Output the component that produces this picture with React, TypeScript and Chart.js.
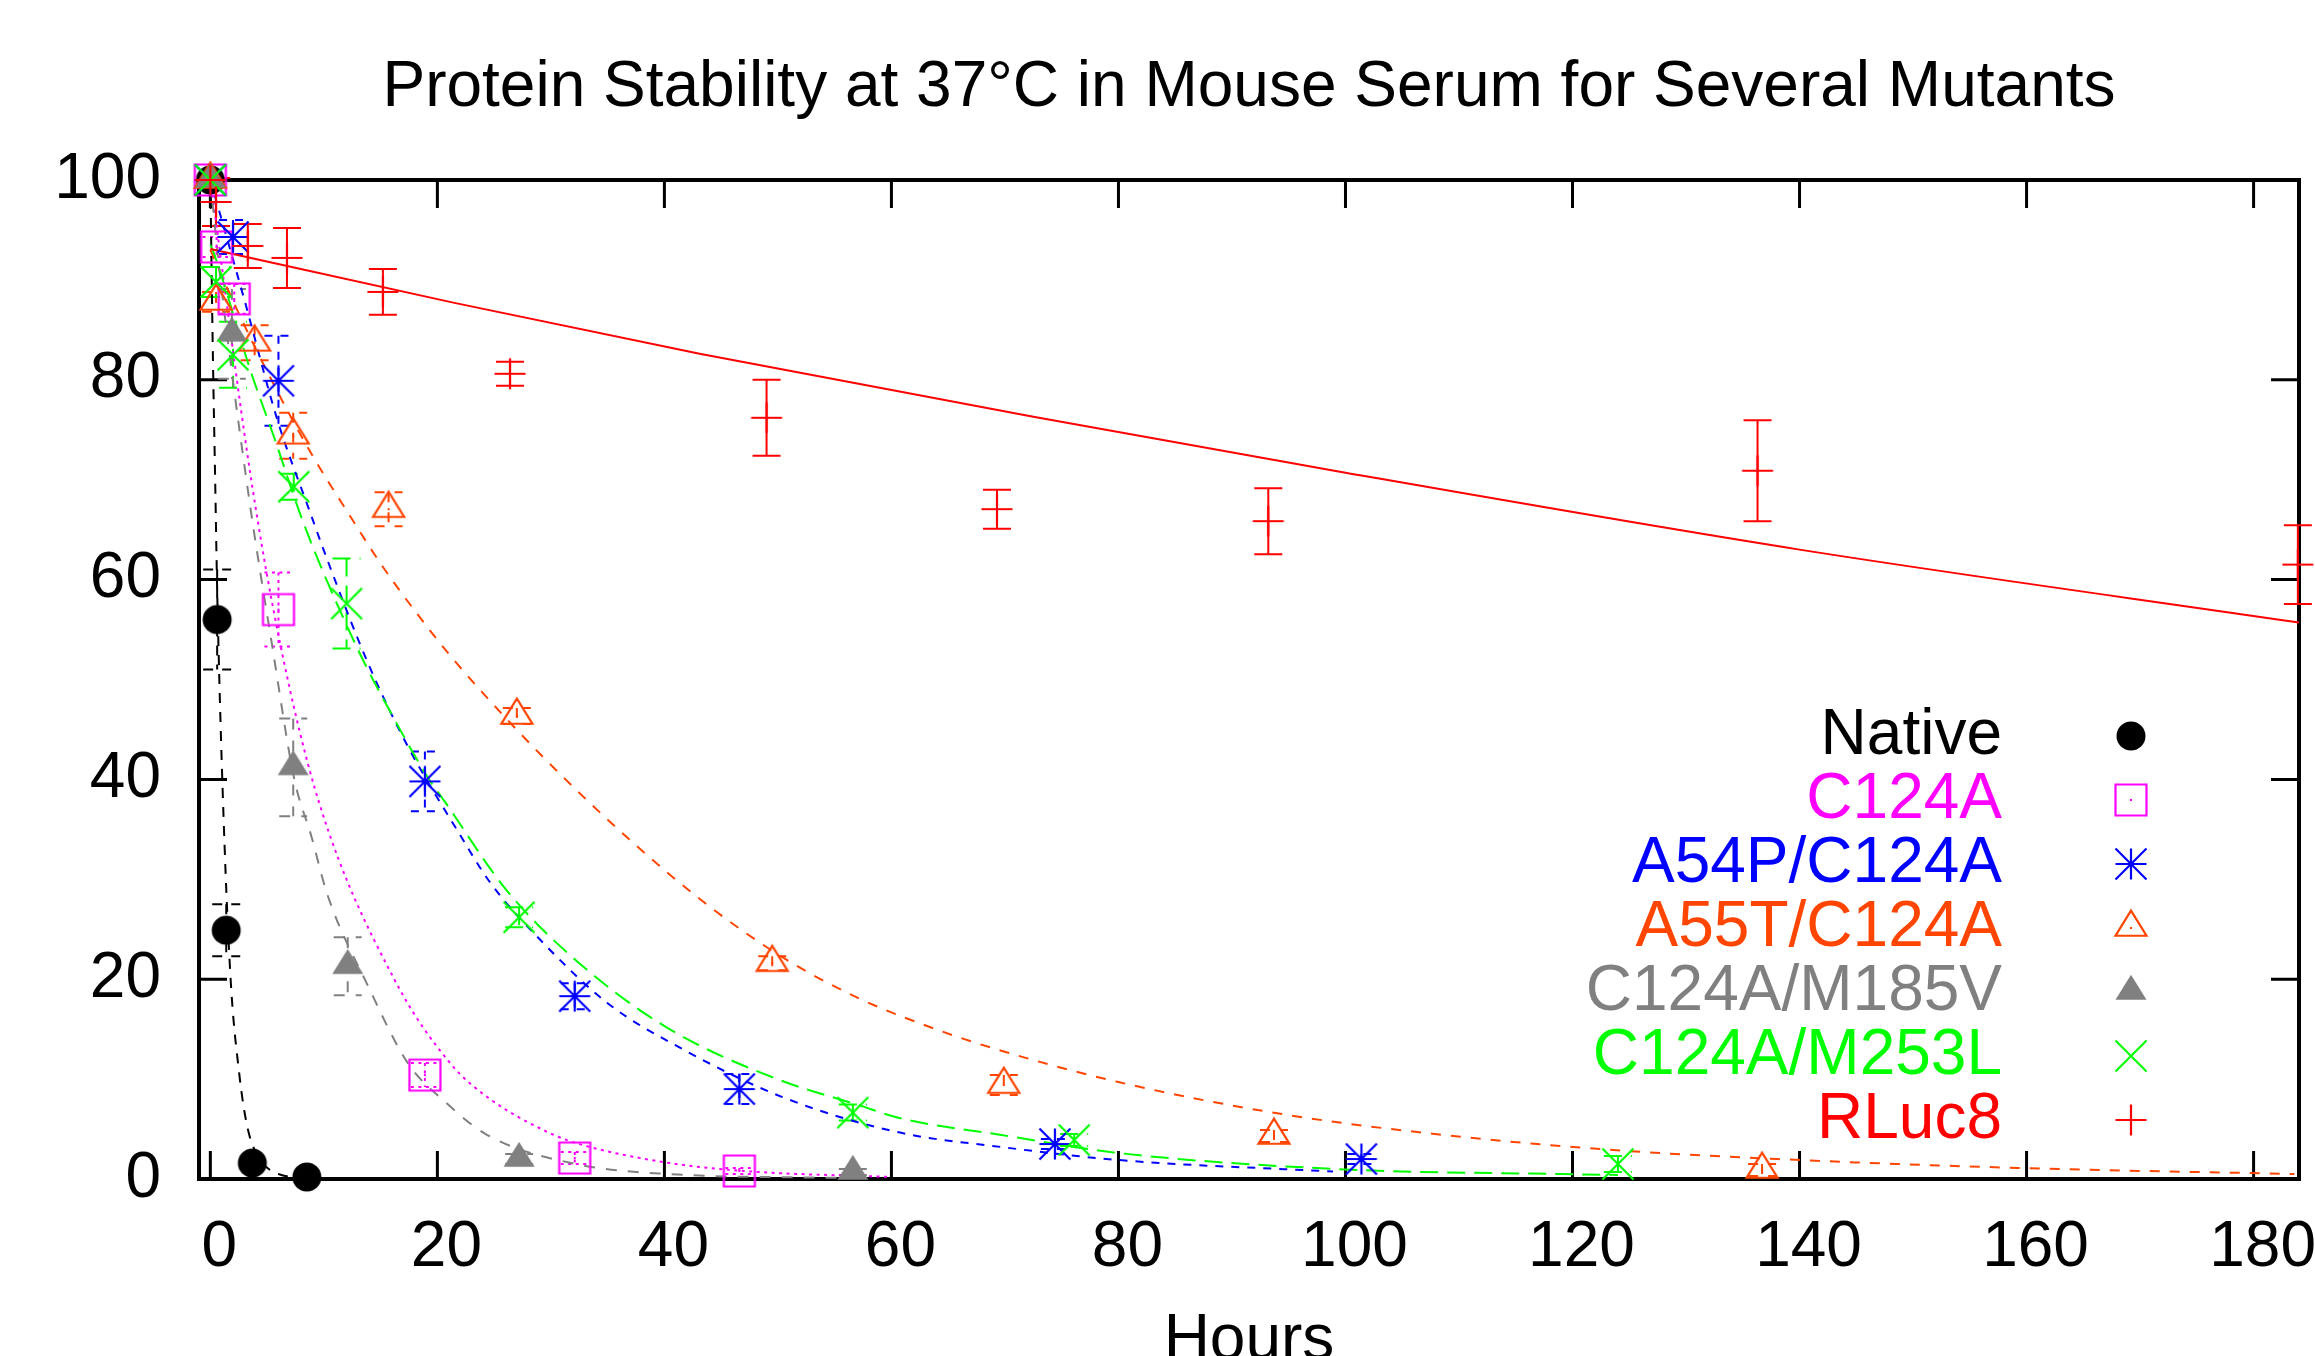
import React, { useEffect, useRef } from 'react';
import { Chart, registerables } from 'chart.js';

Chart.register(...registerables);

const FONT = "'Liberation Sans', Arial, Helvetica, sans-serif";
const W = 2315;
const H = 1356;

// ---------- tick labels ----------
const xTicks = [0, 20, 40, 60, 80, 100, 120, 140, 160, 180];
const yTicks = [0, 20, 40, 60, 80, 100];

// ---------- series names ----------
const seriesNames = ['Native', 'C124A', 'A54P/C124A', 'A55T/C124A', 'C124A/M185V', 'C124A/M253L', 'RLuc8'];

// ---------- measured points (hours, % remaining, +/- error) ----------
const nativeX = [0, 0.6, 1.4, 3.7, 8.5];
const nativeY = [100, 56, 24.9, 1.6, 0.2];
const nativeErr = [0, 5, 2.6, 0, 0];

const c124aX = [0, 0.55, 2.1, 6.0, 18.9, 32.1, 46.6];
const c124aY = [100, 93.3, 88.1, 57, 10.4, 2.1, 0.8];
const c124aErr = [0, 1, 1.5, 3.7, 1.2, 0.6, 0.3];

const a54pX = [0, 2.0, 6.0, 18.9, 32.1, 46.6, 74.4, 101.4];
const a54pY = [100, 94.3, 79.9, 39.8, 18.3, 9.0, 3.5, 2.0];
const a54pErr = [0, 1.7, 4.5, 3.0, 1.3, 1.5, 0.5, 0.5];

const a55tX = [0, 0.5, 3.9, 7.3, 15.7, 27.0, 49.5, 69.9, 93.7, 136.7];
const a55tY = [100, 87.8, 83.7, 74.4, 67.05, 46.35, 21.6, 9.4, 4.3, 0.9];
const a55tErr = [0, 1, 1.75, 2.3, 1.7, 0.8, 0.7, 1, 0.6, 0.6];

const m185vX = [0, 1.9, 7.3, 12.1, 27.2, 56.6];
const m185vY = [100, 84.6, 41.2, 21.3, 2.0, 0.7];
const m185vErr = [0, 4.5, 4.9, 2.9, 0.5, 0.3];

const m253lX = [0, 0.5, 2.0, 7.35, 12.0, 27.2, 56.6, 76.1, 124];
const m253lY = [100, 89.8, 82.5, 69.3, 57.6, 26.2, 6.65, 3.9, 1.5];
const m253lErr = [0, 1.5, 3.3, 1.3, 4.5, 1.0, 0.8, 0.6, 0.8];

const rlucX = [0, 0.5, 3.3, 6.75, 15.2, 26.4, 49.0, 69.3, 93.2, 136.3, 183.9];
const rlucY = [100, 97.8, 93.4, 92.2, 88.8, 80.6, 76.2, 67.05, 65.85, 70.9, 61.5];
const rlucErr = [0, 2.4, 2.2, 3.0, 2.3, 1.2, 3.8, 1.95, 3.3, 5.05, 3.95];

// ---------- fitted decay curves ----------
const nativeFitX = [0, 0.2, 0.44, 0.6, 1.08, 1.76, 2.55, 3.3, 4.5, 6, 8.5];
const nativeFitY = [100, 84, 69, 59, 39, 20.5, 10.5, 5, 1.8, 0.5, 0.1];

const c124aFitX = [0, 3.6, 6.2, 9.6, 16.2, 21.2, 24.4, 29.7, 32.2, 39.9, 47, 60];
const c124aFitY = [100, 70, 53.3, 37.6, 20, 11.5, 8.2, 4.7, 3.6, 1.7, 0.8, 0.2];

const a54pFitX = [0, 3, 5.9, 8.7, 10.3, 13.9, 17.4, 21.7, 24.7, 29.1, 35, 41.6, 50.4, 60.5, 69.7, 80, 98.9];
const a54pFitY = [100, 88, 76, 67, 62, 51.6, 43.3, 35, 29.6, 23.9, 17.6, 13, 8.2, 4.7, 3.2, 1.9, 0.75];

const a55tFitX = [0, 2.4, 5.6, 8.9, 12.4, 15, 18, 21.2, 26.8, 31.2, 36.9, 43.6, 50.4, 57.1, 63.9, 69.5, 80, 94.4, 107.9, 123.6, 141, 159.4, 183.6];
const a55tFitY = [93, 86.9, 79.5, 72.6, 66.2, 61.6, 56.9, 52.3, 45.2, 40.1, 34.0, 27.6, 22.2, 18.1, 15.0, 12.9, 9.7, 6.5, 4.5, 2.9, 1.85, 1.1, 0.5];

const m185vFitX = [0, 0.8, 3.3, 5.5, 7.4, 8.9, 10.3, 13.9, 17.4, 20.7, 24.4, 32.2, 40.3, 56];
const m185vFitY = [100, 91, 69, 53, 40, 34.3, 28.5, 19.3, 11.6, 7.7, 4.4, 1.5, 0.5, 0.1];

const m253lFitX = [0, 0.2, 3.6, 5.6, 8, 10, 13.3, 15.6, 19.1, 20.7, 26.1, 32.5, 40.3, 49.7, 57.1, 60.7, 69.7, 80, 101.1, 119, 124];
const m253lFitY = [93.5, 93, 80.7, 74.3, 66.3, 60.6, 52.3, 47.3, 40.3, 37.7, 28.9, 21.6, 15.1, 10.1, 7.4, 6.1, 4.4, 2.6, 0.9, 0.5, 0.4];

const rlucFitX = [0, 21.5, 43.1, 72.5, 100, 140, 184];
const rlucFitY = [93.1, 87.7, 82.6, 76.3, 70.7, 63.0, 55.7];

const pointXs = [nativeX, c124aX, a54pX, a55tX, m185vX, m253lX, rlucX];
const pointYs = [nativeY, c124aY, a54pY, a55tY, m185vY, m253lY, rlucY];
const pointErrs = [nativeErr, c124aErr, a54pErr, a55tErr, m185vErr, m253lErr, rlucErr];
const fitXs = [nativeFitX, c124aFitX, a54pFitX, a55tFitX, m185vFitX, m253lFitX, rlucFitX];
const fitYs = [nativeFitY, c124aFitY, a54pFitY, a55tFitY, m185vFitY, m253lFitY, rlucFitY];

// ---------- styles ----------
type Kind = 'circle' | 'square' | 'asterisk' | 'triangle' | 'triangleFilled' | 'cross' | 'plus';
const styles: { color: string; dash: number[]; kind: Kind }[] = [
  { color: '#000000', dash: [10, 9], kind: 'circle' },
  { color: '#ff00ff', dash: [3, 4.5], kind: 'square' },
  { color: '#0000ff', dash: [8, 8], kind: 'asterisk' },
  { color: '#ff4500', dash: [10, 10], kind: 'triangle' },
  { color: '#808080', dash: [11, 11], kind: 'triangleFilled' },
  { color: '#00ff00', dash: [18, 9], kind: 'cross' },
  { color: '#ff0000', dash: [], kind: 'plus' },
];

function makeMarker(kind: Kind, color: string): HTMLCanvasElement {
  const c = document.createElement('canvas');
  c.width = 40;
  c.height = 40;
  const g = c.getContext('2d') as CanvasRenderingContext2D;
  const cx = 20;
  const cy = 20;
  const s = 15.5;
  g.strokeStyle = color;
  g.fillStyle = color;
  g.lineWidth = 2.2;
  const dot = () => g.fillRect(cx - 1, cy - 1, 2, 2);
  g.beginPath();
  switch (kind) {
    case 'circle':
      g.arc(cx, cy, 14.5, 0, Math.PI * 2);
      g.fill();
      break;
    case 'square':
      g.rect(cx - s, cy - s, 2 * s, 2 * s);
      g.stroke();
      dot();
      break;
    case 'asterisk':
      g.moveTo(cx - s, cy); g.lineTo(cx + s, cy);
      g.moveTo(cx, cy - s); g.lineTo(cx, cy + s);
      g.moveTo(cx - s, cy - s); g.lineTo(cx + s, cy + s);
      g.moveTo(cx - s, cy + s); g.lineTo(cx + s, cy - s);
      g.stroke();
      break;
    case 'triangle':
      g.moveTo(cx, cy - 1.12 * s);
      g.lineTo(cx - s, cy + 0.5 * s);
      g.lineTo(cx + s, cy + 0.5 * s);
      g.closePath();
      g.stroke();
      dot();
      break;
    case 'triangleFilled':
      g.moveTo(cx, cy - 1.12 * s);
      g.lineTo(cx - s, cy + 0.5 * s);
      g.lineTo(cx + s, cy + 0.5 * s);
      g.closePath();
      g.fill();
      break;
    case 'cross':
      g.moveTo(cx - s, cy - s); g.lineTo(cx + s, cy + s);
      g.moveTo(cx - s, cy + s); g.lineTo(cx + s, cy - s);
      g.stroke();
      break;
    case 'plus':
      g.moveTo(cx - s, cy); g.lineTo(cx + s, cy);
      g.moveTo(cx, cy - s); g.lineTo(cx, cy + s);
      g.stroke();
      break;
  }
  return c;
}

export default function App() {
  const ref = useRef<HTMLCanvasElement | null>(null);

  useEffect(() => {
    const canvas = ref.current;
    if (!canvas) return;
    const markers = styles.map((s) => makeMarker(s.kind, s.color));
    const n = seriesNames.length;

    const datasets: any[] = [];
    seriesNames.forEach((name, i) => {
      datasets.push({
        label: name,
        data: pointXs[i].map((x, k) => ({ x, y: pointYs[i][k] })),
        showLine: false,
        pointStyle: markers[i],
        pointRadius: 15,
        borderColor: styles[i].color,
        backgroundColor: styles[i].color,
        clip: false,
        order: n - 1 - i,
      });
    });
    seriesNames.forEach((name, i) => {
      datasets.push({
        label: name + ' fit',
        data: fitXs[i].map((x, k) => ({ x, y: fitYs[i][k] })),
        showLine: true,
        pointRadius: 0,
        borderColor: styles[i].color,
        borderWidth: 2,
        borderDash: styles[i].dash,
        cubicInterpolationMode: 'monotone',
        fill: false,
        clip: false,
        order: 20 + n - 1 - i,
      });
    });

    const framePlugin = {
      id: 'frame',
      beforeDatasetsDraw(chart: any) {
        const { ctx, chartArea } = chart;
        const { left, right, top, bottom } = chartArea;
        const xs = chart.scales.x;
        const ys = chart.scales.y;
        ctx.save();
        ctx.strokeStyle = '#000';
        ctx.lineWidth = 3;
        ctx.setLineDash([]);
        ctx.beginPath();
        xTicks.forEach((v) => {
          const p = xs.getPixelForValue(v);
          ctx.moveTo(p, bottom); ctx.lineTo(p, bottom - 28);
          ctx.moveTo(p, top); ctx.lineTo(p, top + 28);
        });
        yTicks.forEach((v) => {
          const p = ys.getPixelForValue(v);
          ctx.moveTo(left, p); ctx.lineTo(left + 28, p);
          ctx.moveTo(right, p); ctx.lineTo(right - 28, p);
        });
        ctx.stroke();
        ctx.lineWidth = 4;
        ctx.strokeRect(left, top, right - left, bottom - top);
        // error bars
        ctx.lineWidth = 2;
        seriesNames.forEach((_, i) => {
          ctx.strokeStyle = styles[i].color;
          ctx.setLineDash(styles[i].dash);
          pointXs[i].forEach((x, k) => {
            const e = pointErrs[i][k];
            if (!e) return;
            const y = pointYs[i][k];
            const px = xs.getPixelForValue(x);
            const pt = ys.getPixelForValue(y + e);
            const pb = ys.getPixelForValue(y - e);
            ctx.beginPath();
            ctx.moveTo(px, pt); ctx.lineTo(px, pb);
            ctx.moveTo(px - 14, pt); ctx.lineTo(px + 14, pt);
            ctx.moveTo(px - 14, pb); ctx.lineTo(px + 14, pb);
            ctx.stroke();
          });
        });
        ctx.restore();
      },
    };

    const legendPlugin = {
      id: 'gnuLegend',
      afterDatasetsDraw(chart: any) {
        const { ctx } = chart;
        ctx.save();
        ctx.font = `64px ${FONT}`;
        ctx.textAlign = 'right';
        ctx.textBaseline = 'middle';
        seriesNames.forEach((name, i) => {
          const yRow = 736 + i * 64;
          ctx.fillStyle = styles[i].color;
          ctx.fillText(name, 2002, yRow);
          ctx.drawImage(markers[i], 2131 - 20, yRow - 20);
        });
        ctx.restore();
      },
    };

    const tickFont = { family: FONT, size: 64, weight: 'normal' as const };

    const chart = new Chart(canvas, {
      type: 'scatter',
      data: { datasets },
      options: {
        responsive: false,
        maintainAspectRatio: false,
        animation: false,
        devicePixelRatio: 1,
        layout: { autoPadding: false, padding: { left: 0, right: 16, top: 0, bottom: 0 } },
        plugins: {
          legend: { display: false },
          tooltip: { enabled: false },
          title: {
            display: true,
            text: 'Protein Stability at 37°C in Mouse Serum for Several Mutants',
            fullSize: false,
            color: '#000',
            font: { family: FONT, size: 64, weight: 'normal', lineHeight: 1.2 },
            padding: { top: 50, bottom: 53.2 },
          },
        },
        scales: {
          x: {
            type: 'linear',
            min: -1,
            max: 184,
            afterBuildTicks: (s: any) => {
              s.ticks = xTicks.map((v) => ({ value: v }));
            },
            afterFit: (s: any) => {
              s.height = 177;
              s.paddingLeft = 0;
              s.paddingRight = 0;
            },
            grid: { display: false, drawTicks: false },
            border: { display: false },
            ticks: {
              font: tickFont,
              color: '#000',
              padding: 31,
              labelOffset: 9,
              maxRotation: 0,
              minRotation: 0,
              autoSkip: false,
              callback: (v: any) => String(v),
            },
            title: {
              display: true,
              text: 'Hours',
              color: '#000',
              font: { family: FONT, size: 64, weight: 'normal', lineHeight: 0.45 },
              padding: { top: 0, bottom: 0 },
            },
          },
          y: {
            type: 'linear',
            min: 0,
            max: 100,
            afterBuildTicks: (s: any) => {
              s.ticks = yTicks.map((v) => ({ value: v }));
            },
            afterFit: (s: any) => {
              s.width = 199;
              s.paddingTop = 0;
              s.paddingBottom = 0;
            },
            grid: { display: false, drawTicks: false },
            border: { display: false },
            ticks: {
              font: tickFont,
              color: '#000',
              padding: 38,
              autoSkip: false,
              callback: (v: any) => String(v),
            },
          },
        },
      } as any,
      plugins: [framePlugin, legendPlugin],
    });

    return () => chart.destroy();
  }, []);

  return (
    <div style={{ position: 'fixed', left: 0, top: 0, width: W, height: H, background: '#fff' }}>
      <canvas ref={ref} width={W} height={H} style={{ display: 'block', width: W, height: H }} />
    </div>
  );
}
